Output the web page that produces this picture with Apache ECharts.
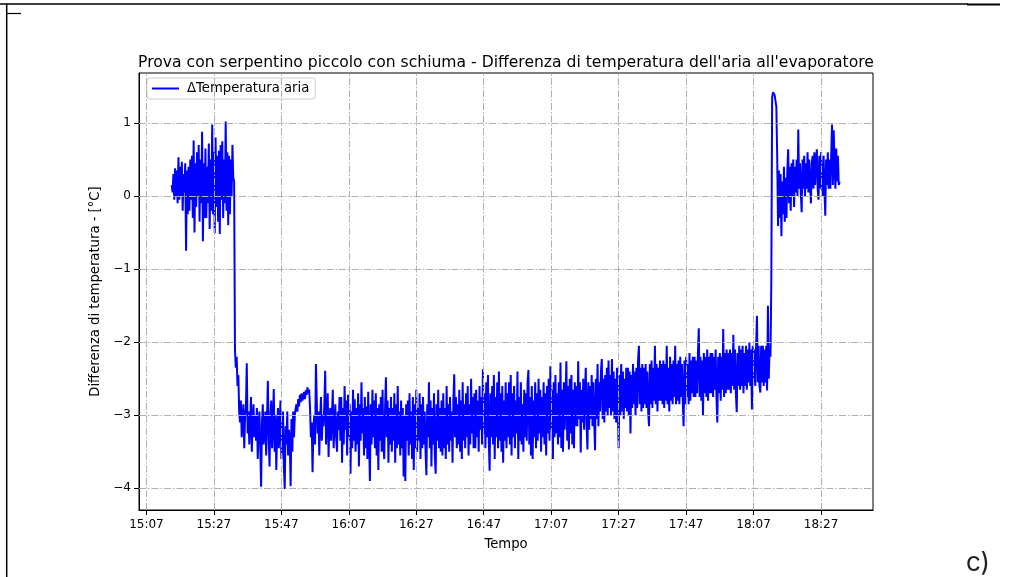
<!DOCTYPE html>
<html>
<head>
<meta charset="utf-8">
<script src="https://cdn.jsdelivr.net/npm/echarts@6/dist/echarts.min.js"></script>
<style>
  html, body { margin: 0; padding: 0; background: #fff; }
  #chart { width: 1012px; height: 577px; }
</style>
</head>
<body>
<div id="chart"></div>
<script>
// Tick labels of the time axis and the temperature axis
const timeTicks = ['15:07', '15:27', '15:47', '16:07', '16:27', '16:47', '17:07', '17:27', '17:47', '18:07', '18:27'];
const tempTicks = [-4, -3, -2, -1, 0, 1];

// Logger clock: first sample and sampling period (minutes)
const firstSample = '15:14:30';
const samplePeriodMin = 0.25;

// Air temperature difference across the evaporator [°C], one value per sample (5 minutes per row)
const deltaT = [
  0.15, 0.05, 0.30, -0.05, 0.38, 0.00, 0.35, -0.10, 0.53, -0.05, 0.40, 0.00, 0.47, -0.20, 0.30, 0.05, 0.45, -0.75, 0.35, -0.25,
  0.40, -0.20, 0.50, -0.05, 0.55, -0.30, 0.76, -0.50, 0.45, -0.15, 0.60, 0.00, 0.70, -0.35, 0.50, -0.10, 0.88, -0.62, 0.45, -0.30,
  0.65, -0.30, 0.40, -0.10, 0.72, -0.45, 0.50, -0.20, 0.98, -0.25, 0.60, -0.51, 0.80, -0.15, 0.55, -0.35, 0.62, -0.52, 0.70, -0.05,
  0.75, -0.30, 0.50, -0.10, 1.02, -0.20, 0.60, -0.40, 0.55, -0.25, 0.50, 0.00, 0.70, 0.25, 0.20, -2.10, -2.35, -2.20, -2.60, -2.45,
  -2.95, -3.10, -2.80, -3.30, -3.05, -2.85, -3.45, -3.00, -2.90, -2.29, -3.25, -2.95, -3.40, -3.10, -2.75, -3.50, -3.05, -2.85, -3.30, -3.00,
  -3.35, -2.90, -3.60, -3.15, -2.95, -3.45, -3.98, -3.10, -2.85, -3.40, -3.20, -2.95, -3.55, -3.05, -2.53, -3.30, -3.70, -3.00, -2.80, -3.45,
  -3.10, -2.64, -3.50, -3.00, -3.75, -3.20, -2.90, -3.45, -3.10, -2.80, -3.60, -3.25, -2.95, -3.70, -4.01, -3.15, -3.40, -2.95, -3.55, -3.20,
  -3.35, -3.97, -3.05, -3.50, -2.95, -3.30, -3.00, -2.90, -2.85, -2.95, -2.78, -2.88, -2.72, -2.82, -2.70, -2.80, -2.75, -2.68, -2.78, -2.66,
  -2.72, -2.62, -2.70, -2.65, -2.90, -3.30, -3.10, -3.78, -3.20, -3.00, -3.40, -2.30, -2.80, -3.25, -2.95, -3.55, -3.05, -2.75, -3.35, -3.00,
  -3.15, -2.85, -2.39, -3.40, -3.05, -2.70, -3.57, -3.10, -2.90, -3.35, -3.00, -2.65, -3.45, -3.15, -2.85, -3.30, -3.50, -2.95, -3.20, -2.75,
  -3.35, -2.75, -3.65, -2.90, -3.40, -2.60, -3.20, -2.80, -3.55, -2.72, -3.30, -2.85, -3.80, -2.95, -3.45, -2.65, -3.35, -2.78, -3.50, -2.90,
  -3.40, -2.70, -3.70, -2.85, -3.35, -2.55, -3.25, -2.90, -3.55, -2.75, -3.45, -2.88, -3.60, -2.68, -3.30, -3.90, -2.85, -3.40, -2.65, -3.30,
  -2.80, -3.45, -2.70, -3.55, -2.90, -3.75, -2.85, -3.35, -2.75, -3.50, -2.65, -3.40, -3.60, -2.90, -2.48, -3.30, -2.80, -3.65, -2.90, -3.40,
  -2.75, -3.50, -2.90, -3.35, -2.70, -3.65, -2.85, -3.45, -2.60, -3.40, -2.95, -3.55, -2.80, -3.45, -2.90, -3.84, -3.00, -3.90, -2.85, -3.35,
  -2.80, -3.55, -2.70, -3.40, -2.95, -3.60, -2.75, -3.75, -2.85, -3.45, -2.65, -3.50, -2.90, -3.35, -2.70, -3.60, -2.85, -3.45, -2.75, -3.40,
  -2.95, -3.50, -3.82, -2.85, -3.30, -2.55, -3.45, -2.80, -3.70, -2.90, -3.40, -2.70, -3.55, -3.80, -2.85, -3.35, -2.65, -3.45, -2.90, -3.50,
  -2.80, -3.55, -2.70, -3.45, -2.90, -3.60, -2.60, -3.40, -2.85, -3.50, -2.75, -3.35, -2.95, -3.65, -2.80, -2.44, -3.30, -2.75, -3.45, -2.85,
  -3.40, -2.65, -3.50, -2.80, -3.60, -2.55, -3.35, -2.85, -3.45, -2.70, -3.30, -2.60, -3.55, -2.85, -3.40, -2.50, -3.25, -2.75, -3.45, -2.70,
  -3.45, -2.65, -3.30, -2.80, -3.50, -2.60, -3.20, -2.75, -3.40, -2.37, -3.25, -2.70, -3.45, -2.55, -3.30, -2.45, -3.35, -3.76, -2.70, -3.30,
  -2.60, -3.40, -2.45, -3.60, -2.75, -3.30, -2.55, -3.45, -2.40, -3.35, -2.70, -3.50, -2.60, -3.65, -2.80, -3.35, -2.55, -3.45, -2.70, -3.30,
  -2.55, -3.40, -2.45, -3.55, -2.70, -3.30, -2.60, -3.45, -2.80, -3.25, -2.40, -3.60, -2.75, -3.35, -2.55, -3.40, -2.85, -3.50, -2.65, -3.30,
  -2.70, -3.35, -2.55, -2.38, -3.40, -2.75, -3.55, -2.60, -3.60, -2.80, -3.30, -2.55, -3.45, -2.70, -3.35, -2.50, -3.25, -2.65, -3.50, -2.75,
  -3.30, -2.55, -3.40, -2.70, -3.55, -2.60, -3.25, -2.50, -3.35, -2.33, -3.20, -2.65, -3.60, -2.55, -3.30, -2.45, -3.25, -2.70, -3.40, -2.55,
  -3.30, -2.28, -3.45, -2.65, -3.50, -2.55, -3.20, -2.75, -2.26, -3.35, -2.60, -3.47, -2.50, -3.25, -2.45, -3.40, -2.65, -3.45, -2.55, -3.15,
  -2.60, -3.15, -2.26, -3.05, -2.55, -3.51, -2.65, -3.10, -2.50, -3.20, -2.70, -2.35, -3.15, -3.47, -2.55, -3.20, -2.60, -3.05, -2.45, -3.15,
  -2.55, -3.10, -3.48, -2.50, -3.05, -2.30, -3.15, -2.55, -2.95, -2.40, -2.23, -3.05, -2.50, -3.10, -2.45, -2.95, -2.35, -3.00, -2.25, -2.90,
  -2.45, -3.00, -2.23, -2.95, -2.40, -3.05, -2.50, -3.10, -2.35, -2.90, -3.45, -2.45, -3.00, -2.30, -2.95, -2.40, -3.05, -2.50, -2.90, -2.35,
  -2.95, -2.35, -3.00, -2.40, -3.25, -2.45, -2.90, -2.30, -2.85, -2.40, -3.00, -2.35, -2.90, -2.25, -2.05, -2.85, -2.35, -2.95, -2.30, -2.90,
  -2.35, -2.85, -2.30, -2.90, -2.40, -2.95, -3.15, -2.30, -2.85, -2.25, -2.90, -2.35, -2.80, -2.05, -2.85, -2.30, -2.95, -2.35, -2.80, -2.25,
  -2.80, -2.30, -2.85, -2.25, -2.90, -2.30, -2.80, -2.05, -2.85, -2.35, -2.95, -2.20, -2.80, -2.30, -2.85, -2.25, -2.75, -2.05, -2.85, -2.30,
  -2.80, -2.25, -2.85, -2.20, -2.75, -2.30, -2.80, -3.15, -2.25, -2.85, -2.20, -2.75, -2.30, -2.85, -2.15, -2.80, -2.25, -2.70, -2.20, -2.75,
  -2.20, -2.75, -2.25, -2.70, -2.15, -1.81, -2.75, -2.20, -2.80, -2.25, -3.00, -2.15, -2.70, -2.20, -2.75, -2.10, -2.80, -2.20, -2.70, -2.15,
  -2.70, -2.15, -2.75, -2.20, -2.65, -2.10, -2.75, -3.10, -2.20, -2.70, -2.15, -2.80, -2.20, -2.65, -1.82, -2.75, -2.15, -2.70, -2.10, -2.65,
  -2.15, -2.65, -2.10, -2.70, -2.15, -2.60, -1.90, -2.65, -2.10, -2.70, -2.96, -2.15, -2.60, -2.05, -2.65, -2.10, -2.60, -2.05, -2.70, -2.15,
  -2.60, -2.05, -2.65, -2.10, -2.55, -2.00, -2.60, -2.10, -2.92, -2.05, -2.55, -2.10, -2.60, -2.05, -1.64, -2.55, -2.05, -2.60, -2.69, -2.05,
  -2.55, -2.05, -2.60, -2.10, -2.55, -2.05, -2.66, -1.50, -2.50, -2.05, -2.20, -1.20, 1.35, 1.42, 1.40, 1.38, 1.30, 1.22, 0.54, -0.41,
  0.35, -0.30, 0.30, -0.55, 0.20, -0.25, 0.40, -0.35, 0.25, -0.30, 0.35, 0.64, -0.10, 0.40, -0.20, 0.45, 0.00, 0.50, -0.15, 0.40,
  0.05, 0.50, 0.00, 0.91, 0.10, 0.45, 0.05, -0.22, 0.50, 0.10, 0.55, 0.00, 0.45, 0.10, 0.60, 0.05, 0.50, 0.15, -0.10, 0.45,
  0.55, 0.10, 0.60, 0.15, 0.50, 0.64, 0.10, -0.05, 0.55, 0.10, 0.60, 0.15, 0.00, 0.55, 0.10, -0.27, 0.50, 0.15, 0.60, 0.10,
  0.50, 0.10, 0.55, 0.98, 0.15, 0.90, 0.45, 0.10, 0.65, 0.20, 0.55, 0.15, 0.20
];

// Clock text -> minutes after midnight
function toMinutes(t) {
  const p = t.split(':').map(Number);
  return p[0] * 60 + p[1] + (p[2] || 0) / 60;
}
function toClock(m) {
  const h = Math.floor(m / 60);
  const mm = Math.round(m - h * 60);
  return h + ':' + String(mm).padStart(2, '0');
}

const t0 = toMinutes(firstSample);
const seriesData = deltaT.map((v, i) => [t0 + i * samplePeriodMin, v]);
const timeTickValues = timeTicks.map(toMinutes);

const FONT = 'DejaVu Sans';
const gridStyle = { color: '#b0b0b0', width: 1, type: [7, 2, 1.5, 2] };

const chart = echarts.init(document.getElementById('chart'), null, { renderer: 'canvas' });

chart.setOption({
  animation: false,
  backgroundColor: '#fff',
  textStyle: { fontFamily: FONT },
  title: {
    text: "Prova con serpentino piccolo con schiuma - Differenza di temperatura dell'aria all'evaporatore",
    left: 'center',
    top: 50,
    textStyle: { fontFamily: FONT, fontSize: 15.6, fontWeight: 'normal', color: '#000' }
  },
  legend: {
    left: 147,
    top: 78,
    padding: [4, 6, 4, 5],
    itemWidth: 27,
    itemHeight: 2,
    borderColor: '#cccccc',
    borderWidth: 1,
    borderRadius: 3,
    backgroundColor: 'rgba(255,255,255,0.8)',
    textStyle: { fontFamily: FONT, fontSize: 13.2, color: '#000', padding: [0, 0, 0, 3] },
    data: [{ name: 'ΔTemperatura aria', icon: 'rect' }]
  },
  grid: {
    left: 139, top: 73, width: 734, height: 437,
    show: true, borderColor: '#000', borderWidth: 1, backgroundColor: 'transparent'
  },
  xAxis: {
    type: 'value',
    min: 904.8,
    max: 1122.4,
    name: 'Tempo',
    nameLocation: 'middle',
    nameGap: 28,
    nameTextStyle: { fontFamily: FONT, fontSize: 13.2, color: '#000' },
    axisLine: { show: true, onZero: false, lineStyle: { color: '#000', width: 1 } },
    axisTick: { show: true, length: 5, customValues: timeTickValues, lineStyle: { color: '#000', width: 1 } },
    axisLabel: {
      customValues: timeTickValues,
      formatter: (v) => toClock(v),
      margin: 9,
      fontFamily: FONT, fontSize: 12, color: '#000'
    },
    splitLine: { show: false }
  },
  yAxis: {
    type: 'value',
    min: -4.297,
    max: 1.684,
    name: 'Differenza di temperatura - [°C]',
    nameLocation: 'middle',
    nameGap: 35,
    nameTextStyle: { fontFamily: FONT, fontSize: 13.2, color: '#000' },
    axisLine: { show: true, onZero: false, lineStyle: { color: '#000', width: 1 } },
    axisTick: { show: true, length: 5, customValues: tempTicks, lineStyle: { color: '#000', width: 1 } },
    axisLabel: {
      customValues: tempTicks,
      formatter: (v) => String(v).replace('-', '\u2212'),
      margin: 8,
      fontFamily: FONT, fontSize: 12, color: '#000'
    },
    splitLine: { show: false }
  },
  series: [
    {
      // dash-dot grid drawn beneath the measurement trace
      name: 'grid',
      type: 'line',
      data: [],
      silent: true,
      z: 1,
      markLine: {
        silent: true,
        symbol: ['none', 'none'],
        label: { show: false },
        lineStyle: gridStyle,
        emphasis: { disabled: true },
        data: timeTickValues.map(v => ({ xAxis: v })).concat(tempTicks.map(v => ({ yAxis: v })))
      }
    },
    {
      name: 'ΔTemperatura aria',
      type: 'line',
      data: seriesData,
      symbol: 'none',
      showSymbol: false,
      sampling: null,
      z: 3,
      color: '#0000ff',
      lineStyle: { color: '#0000ff', width: 2 }
    }
  ],
  graphic: [
    // page frame around the figure
    { type: 'line', shape: { x1: 0, y1: 4, x2: 968, y2: 4 }, style: { stroke: '#000', lineWidth: 1.3 } },
    { type: 'line', shape: { x1: 967, y1: 4.6, x2: 1000, y2: 4.6 }, style: { stroke: '#000', lineWidth: 2 } },
    { type: 'line', shape: { x1: 6.7, y1: 3.5, x2: 6.7, y2: 577 }, style: { stroke: '#000', lineWidth: 1.5 } },
    { type: 'line', shape: { x1: 7, y1: 13.5, x2: 21, y2: 13.5 }, style: { stroke: '#000', lineWidth: 1.2 } },
    {
      type: 'text', left: 966, top: 550,
      style: { text: 'c)', fontFamily: 'Inter', fontSize: 26, fill: '#222' }
    }
  ]
});
</script>
</body>
</html>
